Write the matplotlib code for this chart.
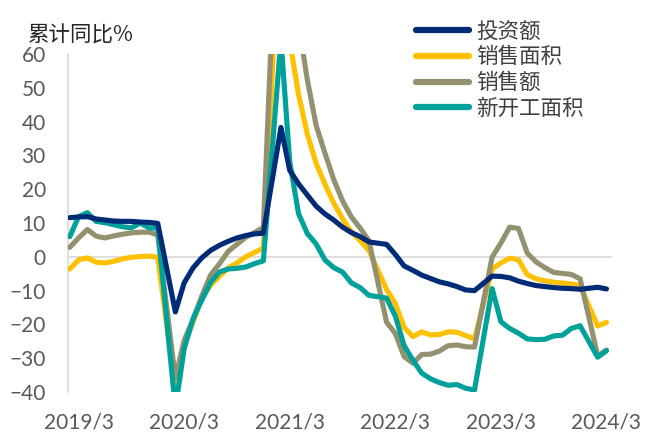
import matplotlib
matplotlib.use("Agg")
import matplotlib.pyplot as plt

# 房地产主要指标累计同比（%），每年1月无单独数据
months = (
    ["2019-%02d" % m for m in range(2, 13)]
    + ["2020-%02d" % m for m in range(2, 13)]
    + ["2021-%02d" % m for m in range(2, 13)]
    + ["2022-%02d" % m for m in range(2, 13)]
    + ["2023-%02d" % m for m in range(2, 13)]
    + ["2024-02", "2024-03"]
)

invest = [11.6, 11.8, 11.9, 11.2, 10.9, 10.6, 10.5, 10.5, 10.3, 10.2, 9.9,
          -16.3, -7.7, -3.3, -0.3, 1.9, 3.4, 4.6, 5.6, 6.3, 6.8, 7.0,
          38.3, 25.6, 21.6, 18.3, 15.0, 12.7, 10.9, 8.8, 7.2, 6.0, 4.4,
          3.7, 0.7, -2.7, -4.0, -5.4, -6.4, -7.4, -8.0, -8.8, -9.8, -10.0,
          -5.7, -5.8, -6.2, -7.2, -7.9, -8.5, -8.8, -9.1, -9.3, -9.4, -9.6,
          -9.0, -9.5]

sales_area = [-3.6, -0.9, -0.3, -1.6, -1.8, -1.3, -0.6, -0.1, 0.1, 0.2, -0.1,
              -39.9, -26.3, -19.3, -12.3, -8.4, -5.8, -3.3, -1.8, 0.0, 1.3, 2.6,
              104.9, 63.8, 48.1, 36.3, 27.7, 21.5, 15.9, 11.3, 7.3, 4.8, 1.9,
              -9.6, -13.8, -20.9, -23.6, -22.2, -23.1, -23.0, -22.2, -22.3, -23.3, -24.3,
              -3.6, -1.8, -0.4, -0.9, -5.3, -6.5, -7.1, -7.5, -7.8, -8.0, -8.5,
              -20.5, -19.4]

sales_value = [2.8, 5.6, 8.1, 6.1, 5.6, 6.2, 6.7, 7.1, 7.3, 7.3, 6.5,
               -35.9, -24.7, -18.6, -11.6, -5.4, -2.1, 1.6, 3.7, 5.8, 7.2, 8.7,
               133.4, 88.5, 69.1, 52.4, 38.9, 30.7, 22.9, 16.6, 11.8, 8.5, 4.8,
               -19.3, -22.7, -29.5, -31.5, -28.9, -28.8, -27.9, -26.3, -26.1, -26.6, -26.7,
               -0.1, 4.1, 8.8, 8.4, 1.1, -1.5, -3.2, -4.6, -4.9, -5.2, -6.5,
               -29.3, -27.6]

new_starts = [6.0, 11.9, 13.1, 10.5, 10.1, 9.5, 8.9, 8.6, 10.0, 8.6, 8.5,
              -44.9, -27.2, -18.4, -12.8, -7.6, -4.5, -3.6, -3.4, -3.0, -2.0, -1.2,
              64.3, 28.2, 12.8, 6.9, 3.8, -0.9, -3.2, -4.5, -7.7, -9.1, -11.4,
              -12.2, -17.5, -26.3, -30.6, -34.4, -36.1, -37.2, -38.0, -37.8, -38.9, -39.4,
              -9.4, -19.2, -21.2, -22.6, -24.3, -24.5, -24.4, -23.4, -23.2, -21.2, -20.4,
              -29.7, -27.8]

series_names = ["投资额", "销售面积", "销售额", "新开工面积"]
tick_labels = ["2019/3", "2020/3", "2021/3", "2022/3", "2023/3", "2024/3"]

COLORS = ["#002C77", "#FFC000", "#949170", "#00A19B"]
CJK = ["Noto Sans CJK SC", "DejaVu Sans"]


def month_index(s):
    y, m = s.split("-")
    return (int(y) - 2019) * 12 + int(m) - 2


def main():
    x = [month_index(s) for s in months]
    tick_pos = [month_index(t.replace("/", "-")) for t in tick_labels]

    fig = plt.figure(figsize=(6.46, 4.33), dpi=100)
    ax = fig.add_axes([0.1053, 0.0947, 0.8417, 0.7803])

    ax.axhline(0, color="#D9D9D9", lw=1.2, zorder=1)
    lines = []
    for vals, c in zip([invest, sales_area, sales_value, new_starts], COLORS):
        ln, = ax.plot(x, vals, color=c, lw=3.7, solid_joinstyle="round",
                      solid_capstyle="round", zorder=3)
        lines.append(ln)
    # 投资额画在最上层
    lines[0].set_zorder(4)

    ax.set_ylim(-40, 60)
    ax.set_xlim(-0.2, 61.6)
    ax.set_yticks(range(-40, 61, 10))
    ax.set_xticks(tick_pos)
    ax.set_xticklabels(tick_labels)

    for s in ["top", "right", "bottom"]:
        ax.spines[s].set_visible(False)
    ax.spines["left"].set_color("#D9D9D9")
    ax.spines["left"].set_linewidth(1.2)
    ax.tick_params(axis="both", length=0, labelsize=15, labelcolor="#595959")
    ax.tick_params(axis="x", pad=15)
    ax.tick_params(axis="y", pad=16)
    for lab in ax.get_xticklabels() + ax.get_yticklabels():
        lab.set_family(["Lato", "DejaVu Sans"])

    fig.text(0.043, 0.918, "累计同比%", family=CJK, fontsize=15.5,
             color="#262626", va="center", ha="left")

    leg = fig.legend(lines, series_names, loc="upper left",
                     bbox_to_anchor=(0.63, 0.972), frameon=False,
                     prop={"family": CJK, "size": 15.5}, labelcolor="#404040",
                     handlelength=2.5, handletextpad=0.3, labelspacing=0.17,
                     borderaxespad=0)
    for h in leg.legend_handles:
        h.set_linewidth(4.5)
        h.set_solid_capstyle("round")

    fig.savefig("out.png", dpi=100)
    plt.close(fig)


if __name__ == "__main__":
    main()
